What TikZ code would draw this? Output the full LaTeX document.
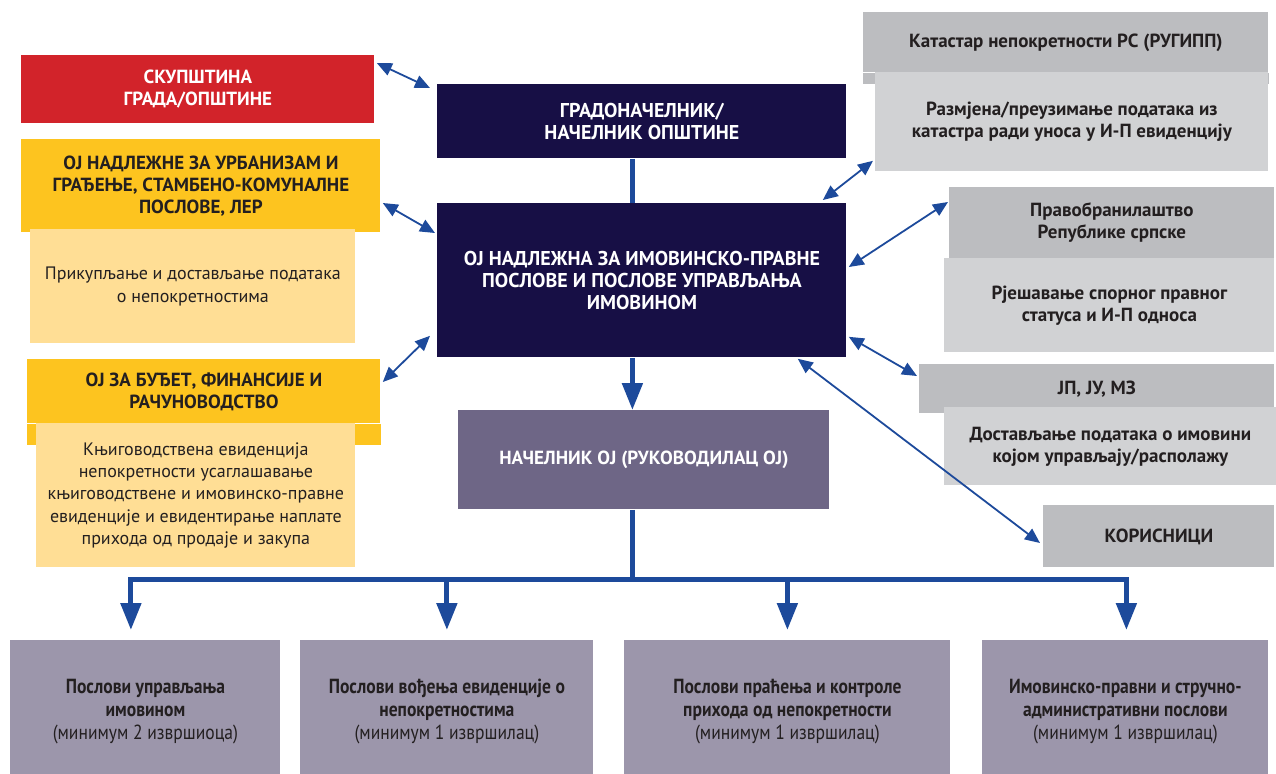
\documentclass[tikz,border=0pt]{standalone}
\usepackage{fontspec}
\setmainfont{PT Sans}
\newfontfamily\narrowfont[FakeStretch=0.86]{PT Sans}
\usetikzlibrary{arrows.meta}

\definecolor{skupred}{HTML}{D2232A}
\definecolor{ojyellow}{HTML}{FDC41F}
\definecolor{lightyellow}{HTML}{FFDE95}
\definecolor{navy}{HTML}{170F45}
\definecolor{headpurple}{HTML}{6E6686}
\definecolor{dutypurple}{HTML}{9C96AB}
\definecolor{headgray}{HTML}{BCBDC0}
\definecolor{notegray}{HTML}{D1D2D4}
\definecolor{linkblue}{HTML}{1D4A9B}
\definecolor{ink}{HTML}{231F20}

\tikzset{
    box/.style={anchor=north west, inner sep=0pt, align=center, text=ink,
        font=\bfseries\fontsize{9.5}{11}\selectfont},
    navybox/.style={box, fill=navy, text=white, font=\bfseries\fontsize{10}{11.2}\selectfont},
    note/.style={box, font=\fontsize{9}{11.2}\selectfont},
    duty/.style={box, fill=dutypurple, font=\narrowfont\fontsize{10.2}{11.4}\selectfont},
    sz/.style 2 args={minimum width=#1*0.5pt, minimum height=#2*0.5pt},
    link/.style={draw=linkblue, line width=0.9pt,
        {Triangle[length=7.5pt,width=6.5pt]}-{Triangle[length=7.5pt,width=6.5pt]}},
    trunk/.style={draw=linkblue, line width=2.5pt},
    down/.style={trunk, -{Triangle[length=13.5pt,width=10pt]}}
}

\begin{document}
\begin{tikzpicture}[x=0.5pt, y=-0.5pt]
    \useasboundingbox (0,0) rectangle (1276,773);
    \clip (0,0) rectangle (1276,773);

    % Left column
    \node[box, sz={353}{68}, fill=skupred, text=white] (skup) at (21,55) {СКУПШТИНА\\ГРАДА/ОПШТИНЕ};
    \node[box, sz={359}{93}, fill=ojyellow] (urb) at (21,139) {ОЈ НАДЛЕЖНЕ ЗА УРБАНИЗАМ И\\ГРАЂЕЊЕ, СТАМБЕНО-КОМУНАЛНЕ\\ПОСЛОВЕ, ЛЕР};
    \node[note, sz={325}{114}, fill=lightyellow] (urbd) at (30,229) {Прикупљање и достављање података\\о непокретностима};
    \node[box, sz={353}{64}, fill=ojyellow] (budg) at (27,359) {ОЈ ЗА БУЂЕТ, ФИНАНСИЈЕ И\\РАЧУНОВОДСТВО};
    \fill[ojyellow] (budg.south west) rectangle ([yshift=-10.5pt]budg.south east);
    \node[note, sz={319}{144}, fill=lightyellow] (budgd) at (36,423) {Књиговодствена евиденција\\непокретности усаглашавање\\књиговодствене и имовинско-правне\\евиденције и евидентирање наплате\\прихода од продаје и закупа};

    % Centre column
    \node[navybox, sz={409}{74}] (grad) at (437,84) {ГРАДОНАЧЕЛНИК/\\НАЧЕЛНИК ОПШТИНЕ};
    \node[navybox, sz={409}{154}] (main) at (437,203) {ОЈ НАДЛЕЖНА ЗА ИМОВИНСКО-ПРАВНЕ\\ПОСЛОВЕ И ПОСЛОВЕ УПРАВЉАЊА\\ИМОВИНОМ};
    \node[box, sz={371}{99}, fill=headpurple, text=white] (nacoj) at (458,410) {НАЧЕЛНИК ОЈ (РУКОВОДИЛАЦ ОЈ)};

    % Right column
    \node[box, sz={405}{60}, fill=headgray] (kat) at (863,12) {Катастар непокретности РС (РУГИПП)};
    \fill[headgray] (kat.south west) rectangle ([yshift=-5.5pt]kat.south east);
    \node[box, sz={393}{99}, fill=notegray] (katd) at (875,72) {Размјена/преузимање података из\\катастра ради уноса у И-П евиденцију};
    \node[box, sz={325}{71}, fill=headgray] (prav) at (949,187) {Правобранилаштво\\Републике српске};
    \node[box, sz={330}{94}, fill=notegray] (pravd) at (944,258) {Рјешавање спорног правног\\статуса и И-П односа};
    \node[box, sz={355}{49}, fill=headgray] (jp) at (919,364) {ЈП, ЈУ, МЗ};
    \node[box, sz={332}{78}, fill=notegray] (jpd) at (944,407) {Достављање података о имовини\\којом управљају/располажу};
    \node[box, sz={231}{62}, fill=headgray] (kor) at (1043,505) {КОРИСНИЦИ};

    % Bottom row
    \node[duty, sz={270}{142}] (p1) at (10,640) {\textbf{Послови управљања}\\\textbf{имовином}\\(минимум 2 извршиоца)};
    \node[duty, sz={293}{142}] (p2) at (300,640) {\textbf{Послови вођења евиденције о}\\\textbf{непокретностима}\\(минимум 1 извршилац)};
    \node[duty, sz={326}{142}] (p3) at (624,640) {\textbf{Послови праћења и контроле}\\\textbf{прихода од непокретности}\\(минимум 1 извршилац)};
    \node[duty, sz={286}{142}] (p4) at (982,640) {\textbf{Имовинско-правни и стручно-}\\\textbf{административни послови}\\(минимум 1 извршилац)};

    % Two-way links
    \draw[link] ([xshift=1pt,yshift=-4pt]skup.north east) -- ([xshift=-3.5pt,yshift=-2pt]grad.north west);
    \draw[link] ([xshift=1pt,yshift=-32pt]urb.north east) -- ([xshift=-1pt,yshift=-15pt]main.north west);
    \draw[link] ([xshift=1pt,yshift=-11.5pt]budg.north east) -- ([xshift=-3.5pt,yshift=11pt]main.south west);
    \draw[link] ([xshift=-12pt,yshift=1.5pt]main.north east) -- ([xshift=-1pt,yshift=5.5pt]katd.south west);
    \draw[link] ([xshift=1pt,yshift=-32pt]main.north east) -- ([xshift=-0.5pt,yshift=-7.5pt]prav.north west);
    \draw[link] ([xshift=1pt,yshift=10.5pt]main.south east) -- ([xshift=-1pt,yshift=-6pt]jp.north west);
    \draw[link] ([xshift=-24.5pt,yshift=-0.5pt]main.south east) -- ([xshift=-1.5pt,yshift=-19pt]kor.north west);

    % Chain of command
    \coordinate (bus) at (632,579);
    \draw[trunk] ([xshift=-4.75pt]grad.south) -- ([xshift=-4.75pt]main.north);
    \draw[down] ([xshift=-4.75pt]main.south) -- ([xshift=-4.75pt]main.south |- nacoj.north);
    \draw[trunk] (bus |- nacoj.south) -- (bus);
    \foreach \i/\dx in {1/-7.25,2/0,3/0,4/0.5} {
        \draw[down, shorten >=5pt] (bus) -| ([xshift=\dx pt]p\i.north);
    }
\end{tikzpicture}
\end{document}
